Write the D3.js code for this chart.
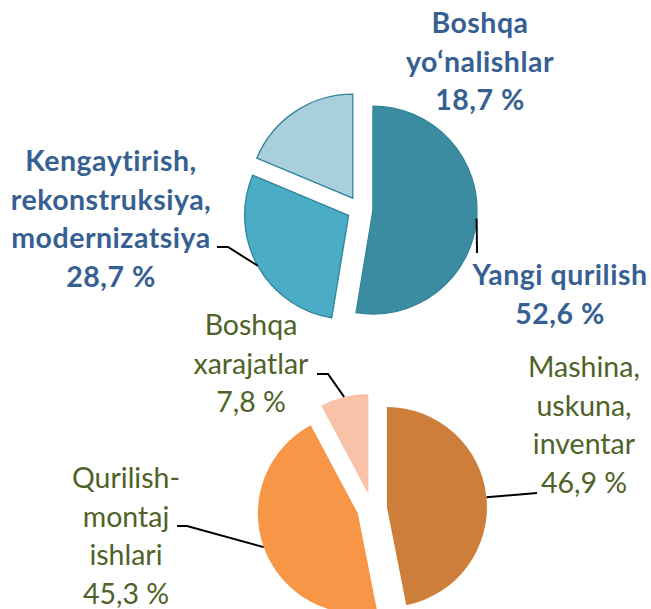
<!DOCTYPE html>
<html>
<head>
<meta charset="utf-8">
<script src="https://cdn.jsdelivr.net/npm/d3@7"></script>
<style>
  body { margin: 0; background: #fff; }
  svg { display: block; }
  text { font-family: Lato, "Noto Sans", sans-serif; }
</style>
</head>
<body>
<svg width="651" height="609"></svg>
<script>
// top pie: investment directions
const topNames = ["Yangi qurilish", "Kengaytirish, rekonstruksiya, modernizatsiya", "Boshqa yo‘nalishlar"];
const topValues = [52.6, 28.7, 18.7];
const topLines = [
    ["Yangi qurilish", "52,6 %"],
    ["Kengaytirish,", "rekonstruksiya,", "modernizatsiya", "28,7 %"],
    ["Boshqa", "yo‘nalishlar", "18,7 %"]
];

// bottom pie: cost structure
const botNames = ["Mashina, uskuna, inventar", "Qurilish-montaj ishlari", "Boshqa xarajatlar"];
const botValues = [46.9, 45.3, 7.8];
const botLines = [
    ["Mashina,", "uskuna,", "inventar", "46,9 %"],
    ["Qurilish-", "montaj", "ishlari", "45,3 %"],
    ["Boshqa", "xarajatlar", "7,8 %"]
];

const topColors = ["#3b8ca0", "#4bacc6", "#a9cfdd"];
const botColors = ["#cd7e3a", "#f79646", "#f9c1a7"];

let svg = d3.select("svg");

// label layout: [centre x, first baseline] and leader end points
const topLabelPos = [[560, 285], [111, 171], [480, 33]];
const topLeader = [[[477, 253]], [[228, 247], [217, 247]], null];
const botLabelPos = [[584, 377], [126, 488], [251, 335]];
const botLeader = [[[537, 493]], [[187, 526], [177, 526]], [[328, 374], [317, 374]]];

function drawPie(values, colors, cx, cy, r, explode, stroke, lines, labelPos, leaders, textColor, weight, fontSize, spacing) {
    let pie = d3.pie().sort(null).value(d => d);
    let arcs = pie(values);
    let arc = d3.arc().innerRadius(0).outerRadius(r);
    let g = svg.append("g").attr("transform", "translate(" + cx + "," + cy + ")");

    arcs.forEach((a, i) => {
        let mid = (a.startAngle + a.endAngle) / 2;
        let dx = Math.sin(mid) * explode;
        let dy = -Math.cos(mid) * explode;
        g.append("path")
            .attr("d", arc(a))
            .attr("transform", "translate(" + dx + "," + dy + ")")
            .attr("fill", colors[i])
            .attr("stroke", stroke)
            .attr("stroke-width", stroke === "none" ? 0 : 1.3);

        if (leaders[i]) {
            let pts = [[cx + dx + Math.sin(mid) * r, cy + dy - Math.cos(mid) * r]].concat(leaders[i]);
            svg.append("path")
                .attr("d", d3.line()(pts))
                .attr("fill", "none")
                .attr("stroke", "#000")
                .attr("stroke-width", 2);
        }
    });

    lines.forEach((ls, i) => {
        let t = svg.append("text")
            .attr("text-anchor", "middle")
            .attr("fill", textColor)
            .attr("font-weight", weight)
            .attr("font-size", fontSize)
            .attr("letter-spacing", spacing);
        ls.forEach((s, j) => {
            t.append("tspan")
                .attr("x", labelPos[i][0])
                .attr("y", labelPos[i][1] + j * 38.7)
                .text(s);
        });
    });
}

drawPie(topValues, topColors, 360, 209, 104, 13, "#31849b", topLines, topLabelPos, topLeader, "#376092", "bold", 28.5, 0.5);
drawPie(botValues, botColors, 372, 508.5, 100, 15, "none", botLines, botLabelPos, botLeader, "#4f6228", "normal", 28.5, 0);
</script>
</body>
</html>
